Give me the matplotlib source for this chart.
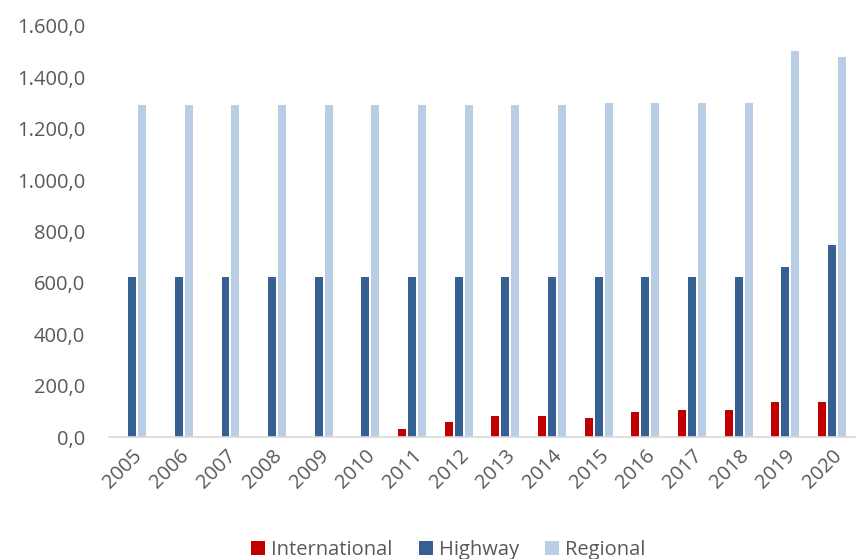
#!/usr/bin/env python3
"""Grouped bars of network length by year: international, highway, regional."""

import matplotlib

matplotlib.use("Agg")
import matplotlib.pyplot as plt
import numpy as np
from matplotlib.ticker import FuncFormatter

YEARS = [str(y) for y in range(2005, 2021)]
INTERNATIONAL = [0, 0, 0, 0, 0, 0, 31, 57, 81, 81, 73, 96, 104, 104, 135, 135]
HIGHWAY = [624, 624, 624, 624, 624, 624, 624, 624, 624, 624, 624, 624, 624, 624, 663, 749]
REGIONAL = [1294, 1294, 1294, 1294, 1294, 1294, 1294, 1294, 1294, 1294,
            1301, 1301, 1301, 1301, 1504, 1481]
SERIES_NAMES = ["International", "Highway", "Regional"]

COLORS = ["#c00000", "#376092", "#b9cde5"]
TEXT_COLOR = "#595959"
FONT = "Open Sans"
FONT_SIZE = 14.5


def euro_fmt(value, _pos):
    s = f"{value:,.1f}"
    return s.replace(",", "X").replace(".", ",").replace("X", ".")


def main() -> None:
    plt.rcParams["font.family"] = [FONT, "DejaVu Sans"]
    fig = plt.figure(figsize=(8.57, 5.59), dpi=100)
    ax = fig.add_axes([0.127, 0.218, 0.871, 0.7355])

    x = np.arange(len(YEARS), dtype=float)
    width = 0.17
    offset = 0.213
    for i, (vals, name, color) in enumerate(
        zip((INTERNATIONAL, HIGHWAY, REGIONAL), SERIES_NAMES, COLORS)
    ):
        ax.bar(x + (i - 1) * offset, vals, width=width, color=color, label=name)

    ax.set_xlim(-0.5, len(YEARS) - 0.5)
    ax.set_ylim(0, 1600)
    ax.set_yticks(np.arange(0, 1601, 200))
    ax.yaxis.set_major_formatter(FuncFormatter(euro_fmt))
    ax.set_xticks(x)
    ax.set_xticklabels(YEARS, rotation=45, ha="right", rotation_mode="anchor")

    for side in ("top", "right", "left"):
        ax.spines[side].set_visible(False)
    ax.spines["bottom"].set_color("#d9d9d9")
    ax.spines["bottom"].set_linewidth(1.2)
    ax.tick_params(axis="both", length=0, labelsize=FONT_SIZE, colors=TEXT_COLOR)
    ax.tick_params(axis="y", pad=17)
    ax.tick_params(axis="x", pad=6)

    fig.legend(
        loc="lower center",
        bbox_to_anchor=(0.523, -0.034),
        ncol=3,
        frameon=False,
        fontsize=FONT_SIZE,
        labelcolor=TEXT_COLOR,
        handlelength=0.7,
        handleheight=0.7,
        handletextpad=0.3,
        columnspacing=1.3,
    )

    fig.savefig("out.png")
    plt.close(fig)


if __name__ == "__main__":
    main()
